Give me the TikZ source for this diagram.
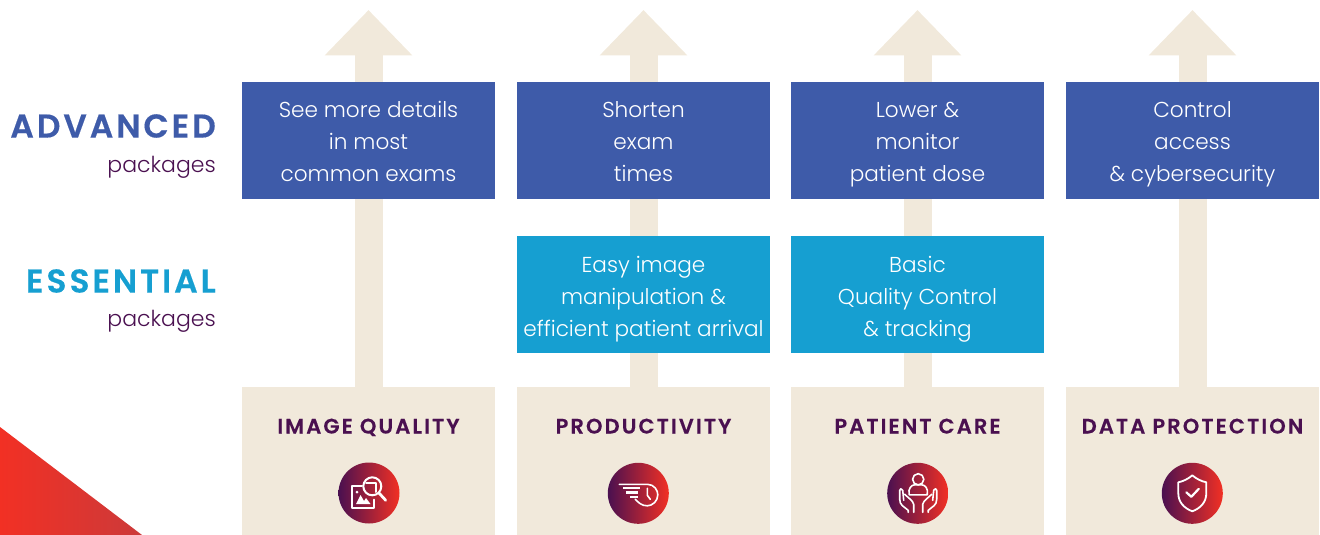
\documentclass[tikz,border=0pt]{standalone}
\usepackage{fontspec}
\setmainfont{Poppins}[UprightFont=* Light,BoldFont=* SemiBold]
\newfontfamily\trackA{Poppins SemiBold}[LetterSpace=10,FakeBold=0.3]
\newfontfamily\trackB{Poppins SemiBold}[LetterSpace=8.8,FakeBold=0.4]
\usetikzlibrary{arrows.meta,calc}
\definecolor{beige}{HTML}{F1E9DB}
\definecolor{advblue}{HTML}{3E5BA9}
\definecolor{essblue}{HTML}{169FD1}
\definecolor{plum}{HTML}{4A1050}
\definecolor{redc}{HTML}{F23024}
\definecolor{redd}{HTML}{CC3A3A}
\newcommand\advl{\rule[-7pt]{0pt}{32pt}}
\newcommand\essl{\rule[-6pt]{0pt}{32pt}}
\tikzset{
  x=1pt,y=-1pt,
  upshaft/.style={draw=beige,line width=28pt,-{Triangle[length=45.5pt,width=85pt,color=beige]}},
  box/.style={minimum width=253pt,minimum height=117pt,inner sep=0pt,align=center,text=white,font=\fontsize{21.6}{32}\selectfont},
  advbox/.style={box,fill=advblue},
  essbox/.style={box,fill=essblue},
  basebox/.style={minimum width=253pt,minimum height=148pt,inner sep=0pt,fill=beige},
  basetitle/.style={inner sep=0pt,text=plum,font=\fontsize{21}{25}\trackA,anchor=base},
  bigleft/.style={inner sep=0pt,anchor=east,font=\fontsize{33}{38}\trackB},
  smallleft/.style={inner sep=0pt,anchor=east,text=plum,font=\fontsize{22}{26}\selectfont},
  iconbg/.style={circle,minimum size=61pt,inner sep=0pt,left color=plum,right color=redc},
  ic/.style={draw=white,line width=1.6pt,line cap=round,line join=round,fill=none},
  icf/.style={fill=white,draw=none}
}
\begin{document}
\begin{tikzpicture}
\useasboundingbox (0,0) rectangle (1320,535);
\path[left color=redc,right color=redd] (0,427) -- (142,535) -- (0,535) -- cycle;

\coordinate (t1) at (368.5,10);
\coordinate (t2) at (643.5,10);
\coordinate (t3) at (917.5,10);
\coordinate (t4) at (1192.5,10);

\node[basebox] (b1) at (368.5,461) {};
\node[basebox] (b2) at (643.5,461) {};
\node[basebox] (b3) at (917.5,461) {};
\node[basebox] (b4) at (1192.5,461) {};

\draw[upshaft] (b1.north) -- (t1);
\draw[upshaft] (b2.north) -- (t2);
\draw[upshaft] (b3.north) -- (t3);
\draw[upshaft] (b4.north) -- (t4);

\node[advbox] (a1) at (368.5,140.5) {\advl See more details\\\advl in most\\\advl common exams};
\node[advbox] (a2) at (643.5,140.5) {\advl Shorten\\\advl exam\\\advl times};
\node[advbox] (a3) at (917.5,140.5) {\advl Lower \&\\\advl monitor\\\advl patient dose};
\node[advbox] (a4) at (1192.5,140.5) {\advl Control\\\advl access\\\advl \& cybersecurity};
\node[essbox] (e2) at (643.5,294.5) {\essl Easy image\\\essl manipulation \&\\\essl efficient patient arrival};
\node[essbox] (e3) at (917.5,294.5) {\essl Basic\\\essl Quality Control\\\essl \& tracking};

\node[basetitle] (l1) at (368.5,433.5) {IMAGE QUALITY};
\node[basetitle] (l2) at (643.5,433.5) {PRODUCTIVITY};
\node[basetitle] (l3) at (917.5,433.5) {PATIENT CARE};
\node[basetitle] (l4) at (1192.5,433.5) {DATA PROTECTION};

\node[bigleft,text=advblue] (adv) at (216,126) {ADVANCED};
\node[smallleft] (advs) at (216,167) {packages};
\node[bigleft,text=essblue] (ess) at (216,281) {ESSENTIAL};
\node[smallleft] (esss) at (216,321) {packages};

\node[iconbg] (i1) at (369,493) {};
\node[iconbg] (i2) at (638.3,493.3) {};
\node[iconbg] (i3) at (917.7,493.3) {};
\node[iconbg] (i4) at (1192.3,493.3) {};

\begin{scope}[shift={(i1.center)}]
  \draw[ic,line width=2pt] (-7,-7.3) -- (-16.7,-7.3) -- (-16.7,15) -- (5,15) -- (5,6.7);
  \fill[icf] (-13,11) -- (-8.5,2) -- (-5,8) -- (-3,5) -- (1.5,11) -- cycle;
  \fill[icf] (-12,-1) circle (1.5);
  \draw[ic,line width=2pt] (3.3,-6.7) circle (9);
  \draw[ic,line width=2pt] (-3,-10) -- (7,-10) -- (7,-1);
  \draw[ic,line width=2.8pt] (9.8,-0.2) -- (16.7,7.3);
\end{scope}
\begin{scope}[shift={(i2.center)}]
  \draw[ic] (-19,-9) -- (9,-9) .. controls (16,-9) and (19.5,-3) .. (19.5,1.5) .. controls (19.5,8) and (14,12.5) .. (9,12.5) .. controls (3,12.5) and (0,9) .. (-3,6);
  \fill[icf] (-15,-6.3) rectangle (1.5,-4.2);
  \fill[icf] (-12,-2) rectangle (0,0.4);
  \fill[icf] (-8.5,2.3) rectangle (0,4.6);
  \draw[ic] (9,-5) -- (9,2) -- (12,6);
\end{scope}
\begin{scope}[shift={(i3.center)}]
  \draw[ic] (0.5,-14) circle (5.6);
  \draw[ic] (-8.5,1.5) .. controls (-10,-5) and (-6,-8.5) .. (-3,-8.5) -- (4,-8.5) .. controls (7,-8.5) and (11,-5) .. (9.5,1.5) -- cycle;
  \draw[ic] (-4,19) -- (-4,11) .. controls (-5,7) and (-9,5) .. (-13,1);
  \draw[ic] (-9.5,19) -- (-9.5,17) .. controls (-14,13) and (-18,12) .. (-18,6) -- (-18,-3) .. controls (-18,-5) and (-16,-5) .. (-15,-3) -- (-14,7);
  \draw[ic] (5,19) -- (5,11) .. controls (6,7) and (10,5) .. (14,1);
  \draw[ic] (10.5,19) -- (10.5,17) .. controls (15,13) and (19,12) .. (19,6) -- (19,-3) .. controls (19,-5) and (17,-5) .. (16,-3) -- (15,7);
\end{scope}
\begin{scope}[shift={(i4.center)}]
  \draw[ic,line width=1.8pt] (0,-18) .. controls (-4,-14.5) and (-9,-12) .. (-14,-11) -- (-14,0) .. controls (-14,9) and (-8,15) .. (0,18) .. controls (8,15) and (14,9) .. (14,0) -- (14,-11) .. controls (9,-12) and (4,-14.5) .. (0,-18) -- cycle;
  \draw[ic,line width=2.2pt] (-6,-1) -- (-1,3.5) -- (6.5,-4.5);
\end{scope}
\end{tikzpicture}
\end{document}
